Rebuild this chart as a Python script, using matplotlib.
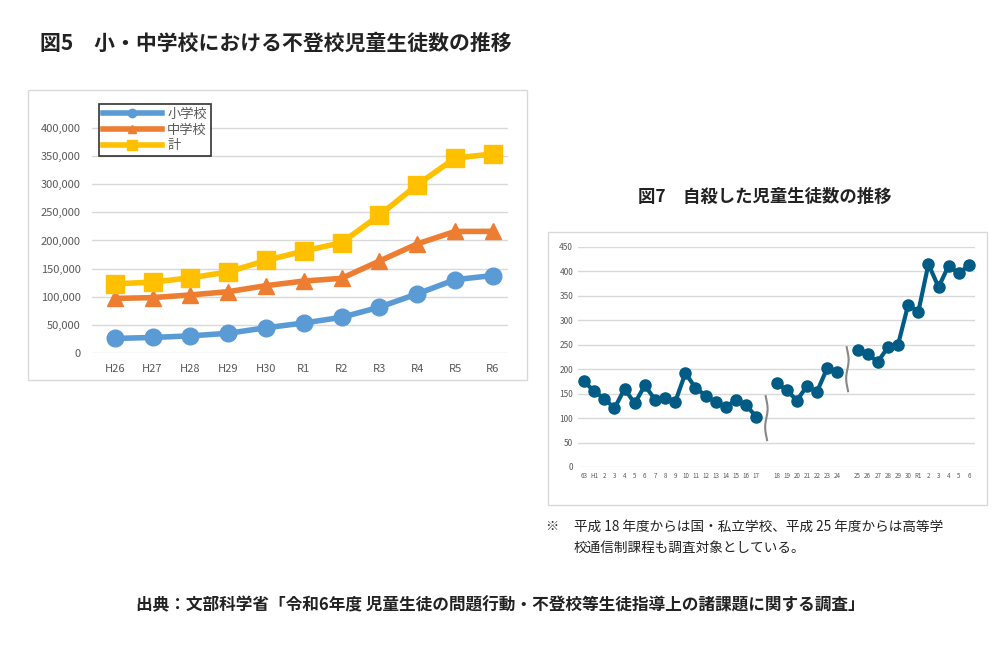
import numpy as np
import matplotlib.pyplot as plt
from matplotlib.patches import Rectangle

plt.rcParams['font.family'] = ['Noto Sans CJK JP', 'DejaVu Sans']

# 図5 data
years5 = ['H26', 'H27', 'H28', 'H29', 'H30', 'R1', 'R2', 'R3', 'R4', 'R5', 'R6']
elem = [25866, 27583, 30448, 35032, 44841, 53350, 63350, 81498, 105112, 130370, 137704]
junior = [97033, 98408, 103235, 108999, 119687, 127922, 132777, 163442, 193936, 216112, 216266]
total = [a + b for a, b in zip(elem, junior)]

# 図7 data (three segments)
lab1 = ['63', 'H1'] + [str(i) for i in range(2, 18)]
val1 = [175, 155, 140, 120, 160, 130, 167, 138, 142, 133, 192, 162, 146, 132, 123, 137, 126, 103]
lab2 = [str(i) for i in range(18, 25)]
val2 = [171, 158, 136, 165, 154, 202, 195]
lab3 = ['25', '26', '27', '28', '29', '30', 'R1', '2', '3', '4', '5', '6']
val3 = [240, 231, 215, 245, 250, 332, 317, 415, 368, 412, 396, 413]

fig = plt.figure(figsize=(10, 6.6), dpi=100)
W, H = 1000, 660


def fr(x0, y0, x1, y1):
    return [x0 / W, 1 - y1 / H, (x1 - x0) / W, (y1 - y0) / H]


fig.text(40 / W, 1 - 43 / H, '図5　小・中学校における不登校児童生徒数の推移',
         fontsize=15, fontweight='bold', va='center', color='#222222')
fig.patches.append(Rectangle((28 / W, 1 - 380 / H), 499 / W, 290 / H, transform=fig.transFigure,
                             fill=False, ec='#d9d9d9', lw=1))

ax = fig.add_axes(fr(92, 100, 508, 353))
x = np.arange(len(years5))
ax.plot(x, elem, color='#5b9bd5', lw=4, marker='o', ms=12, label='小学校')
ax.plot(x, junior, color='#ed7d31', lw=4, marker='^', ms=12, label='中学校')
ax.plot(x, total, color='#ffc000', lw=4, marker='s', ms=13, label='計')
ax.set_ylim(0, 400000 * 253 / 225)
ax.set_xlim(-0.6, 10.4)
ax.set_yticks(range(0, 400001, 50000))
ax.set_yticklabels([f'{v:,}' for v in range(0, 400001, 50000)], fontsize=8, color='#595959')
ax.set_xticks(x)
ax.set_xticklabels(years5, fontsize=8, color='#595959')
ax.grid(axis='y', color='#d9d9d9', lw=1)
ax.set_axisbelow(True)
for s in ax.spines.values():
    s.set_visible(False)
ax.tick_params(length=0, pad=8)
leg = ax.legend(loc='upper left', bbox_to_anchor=(0.0, 1.01), fontsize=9.5, frameon=True,
                fancybox=False, edgecolor='black', markerscale=0.5, handlelength=4.5,
                labelspacing=0.2, borderpad=0.3, handletextpad=0.4)
leg.get_frame().set_linewidth(1.2)
for t in leg.get_texts():
    t.set_color('#595959')

# 図7
fig.text(765 / W, 1 - 197 / H, '図7　自殺した児童生徒数の推移', fontsize=12.5,
         fontweight='bold', ha='center', va='center', color='#222222')
fig.patches.append(Rectangle((548 / W, 1 - 505 / H), 439 / W, 273 / H, transform=fig.transFigure,
                             fill=False, ec='#d9d9d9', lw=1))
ax2 = fig.add_axes(fr(578, 247, 975, 467))
x1 = np.arange(len(val1))
x2 = np.arange(len(val2)) + len(val1) + 1
x3 = np.arange(len(val3)) + x2[-1] + 2
col = '#005b85'
for xs, vs in [(x1, val1), (x2, val2), (x3, val3)]:
    ax2.plot(xs, vs, color=col, lw=3, marker='o', ms=8)
for bx, by in [(x1[-1] + 1, 100), (x2[-1] + 1, 200)]:
    t = np.linspace(-45, 45, 60)
    ax2.plot(bx + 0.12 * np.sin(t / 12), by + t, color='#888888', lw=1.5)
ax2.set_ylim(0, 450)
ax2.set_xlim(-0.6, x3[-1] + 0.6)
ax2.set_yticks(range(0, 451, 50))
ax2.tick_params(axis='y', labelsize=6, colors='#595959', length=0)
ax2.set_xticks(np.concatenate([x1, x2, x3]))
ax2.set_xticklabels(lab1 + lab2 + lab3, fontsize=4.5, color='#595959')
ax2.tick_params(axis='x', length=0)
ax2.grid(axis='y', color='#d9d9d9', lw=1)
ax2.set_axisbelow(True)
for s in ax2.spines.values():
    s.set_visible(False)

fig.text(545 / W, 1 - 527 / H, '※', fontsize=9.5, va='center', color='#222222')
fig.text(574 / W, 1 - 527 / H, '平成 18 年度からは国・私立学校、平成 25 年度からは高等学',
         fontsize=9.8, va='center', color='#222222')
fig.text(574 / W, 1 - 548 / H, '校通信制課程も調査対象としている。',
         fontsize=9.8, va='center', color='#222222')

fig.text(0.5, 1 - 605 / H, '出典：文部科学省「令和6年度 児童生徒の問題行動・不登校等生徒指導上の諸課題に関する調査」',
         fontsize=12, fontweight='bold', ha='center', va='center', color='#222222')

fig.savefig('out.png', dpi=100)
